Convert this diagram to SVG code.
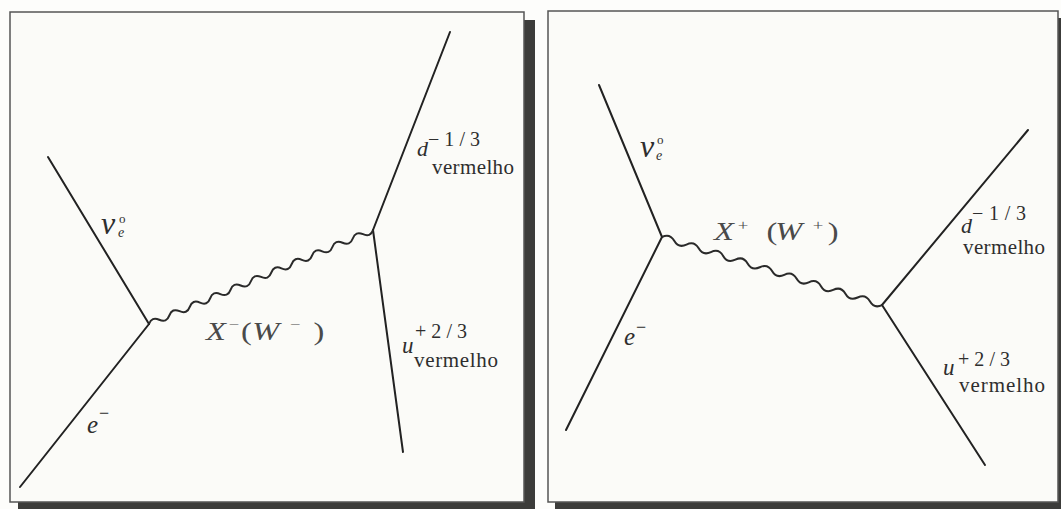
<svg xmlns="http://www.w3.org/2000/svg" width="1061" height="509" viewBox="0 0 1061 509">
<style>
.bg{fill:#fdfdfb}
.panel{fill:#fbfbf8;stroke:#555;stroke-width:1.5}
.shadow{fill:#3c3c3a}
.ln{stroke:#222;stroke-width:2;fill:none;stroke-linecap:round}
.wave{stroke:#2a2a2a;stroke-width:2;fill:none}
text{font-family:"Liberation Serif","Times New Roman","DejaVu Serif",serif}
.it{font-style:italic;fill:#2e2e2e}
.rm{fill:#2e2e2e}
.lab{fill:#4a4a4a;font-size:26px}
.sup{fill:#4a4a4a;font-size:15px}
</style>
<rect class="bg" x="0" y="0" width="1061" height="509"/>
<g id="panel-left">
<rect class="shadow" x="524" y="20" width="11" height="489"/>
<rect class="shadow" x="18" y="502" width="517" height="7"/>
<rect class="panel" x="10" y="12" width="514" height="490"/>
</g>
<g id="panel-right">
<rect class="shadow" x="555" y="502" width="506" height="7"/>
<rect class="shadow" x="1058" y="18" width="3" height="491"/>
<rect class="panel" x="548" y="11" width="510" height="491"/>
</g>
<g id="connectors">
<line class="ln" x1="48" y1="157" x2="149" y2="324"/>
<line class="ln" x1="149" y1="324" x2="20" y2="487"/>
<line class="ln" x1="373" y1="230" x2="450" y2="32"/>
<line class="ln" x1="373" y1="230" x2="403" y2="452"/>
<path class="wave" transform="translate(149,324) rotate(-22.77)" d="M0,0 q5.52,-6 11.05,0 t11.05,0 t11.05,0 t11.05,0 t11.05,0 t11.05,0 t11.05,0 t11.05,0 t11.05,0 t11.05,0 t11.05,0 t11.05,0 t11.05,0 t11.05,0 t11.05,0 t11.05,0 t11.05,0 t11.05,0 t11.05,0 t11.05,0 t11.05,0 t11.05,0"/>
<line class="ln" x1="599" y1="85" x2="662" y2="237"/>
<line class="ln" x1="662" y1="237" x2="566" y2="430"/>
<line class="ln" x1="882" y1="305" x2="1028" y2="130"/>
<line class="ln" x1="882" y1="305" x2="985" y2="465"/>
<path class="wave" transform="translate(662,237) rotate(17.18)" d="M0,0 q6.4,-6 12.8,0 t12.8,0 t12.8,0 t12.8,0 t12.8,0 t12.8,0 t12.8,0 t12.8,0 t12.8,0 t12.8,0 t12.8,0 t12.8,0 t12.8,0 t12.8,0 t12.8,0 t12.8,0 t12.8,0 t12.8,0"/>
</g>
<g id="left-labels">
<g id="nu-left">
<text class="it" x="101" y="234" font-size="32">ν</text>
<text class="it" x="118" y="237" font-size="14">e</text>
<text class="rm" x="119" y="223" font-size="13">o</text>
</g>
<g id="x-minus" transform="translate(206,340) scale(1.25,1)">
<text class="lab" x="0" y="0" font-style="italic">X</text>
<text class="sup" x="18" y="-11">−</text>
<text class="lab" x="28" y="0">(</text>
<text class="lab" x="37" y="0" font-style="italic">W</text>
<text class="sup" x="67" y="-11">−</text>
<text class="lab" x="86" y="0">)</text>
</g>
<g id="e-left">
<text class="it" x="87" y="433" font-size="25">e</text>
<text class="rm" x="99" y="419" font-size="18">−</text>
</g>
<g id="d-left">
<text class="it" x="417" y="156" font-size="22">d</text>
<text class="rm" x="428" y="146" font-size="20" textLength="52">−1/3</text>
<text class="rm" x="432" y="174" font-size="21" textLength="82">vermelho</text>
</g>
<g id="u-left">
<text class="it" x="402" y="353" font-size="23">u</text>
<text class="rm" x="415" y="338" font-size="20" textLength="52">+2/3</text>
<text class="rm" x="414" y="367" font-size="21" textLength="84">vermelho</text>
</g>
</g>
<g id="right-labels">
<g id="nu-right">
<text class="it" x="640" y="157" font-size="32">ν</text>
<text class="it" x="656" y="160" font-size="14">e</text>
<text class="rm" x="657" y="144" font-size="13">o</text>
</g>
<g id="x-plus" transform="translate(714,240) scale(1.25,1)">
<text class="lab" x="0" y="0" font-style="italic">X</text>
<text class="sup" x="19" y="-10">+</text>
<text class="lab" x="42" y="0">(</text>
<text class="lab" x="49" y="0" font-style="italic">W</text>
<text class="sup" x="79" y="-10">+</text>
<text class="lab" x="91" y="0">)</text>
</g>
<g id="e-right">
<text class="it" x="624" y="345" font-size="25">e</text>
<text class="rm" x="636" y="333" font-size="18">−</text>
</g>
<g id="d-right">
<text class="it" x="961" y="233" font-size="22">d</text>
<text class="rm" x="972" y="220" font-size="20" textLength="54">−1/3</text>
<text class="rm" x="963" y="254" font-size="21" textLength="82">vermelho</text>
</g>
<g id="u-right">
<text class="it" x="943" y="375" font-size="23">u</text>
<text class="rm" x="958" y="366" font-size="20" textLength="52">+2/3</text>
<text class="rm" x="959" y="392" font-size="21" textLength="86">vermelho</text>
</g>
</g>
</svg>
